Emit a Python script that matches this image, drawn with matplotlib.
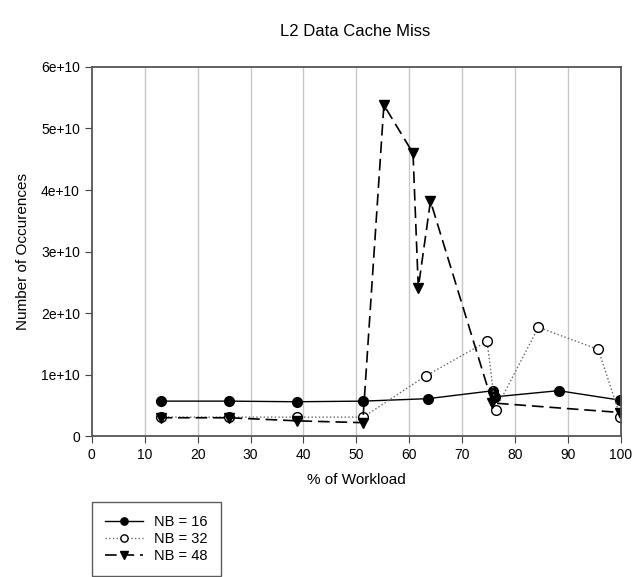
import matplotlib
matplotlib.use('Agg')
import matplotlib.pyplot as plt

plt.rcParams['font.family'] = ['Liberation Sans', 'DejaVu Sans']

# NB = 16
x16 = [13.0, 25.9, 38.7, 51.3, 63.5, 75.9, 76.2, 88.2, 99.9]
y16 = [5.7e9, 5.7e9, 5.6e9, 5.7e9, 6.1e9, 7.4e9, 6.4e9, 7.4e9, 5.85e9]

# NB = 32
x32 = [13.0, 25.9, 38.7, 51.3, 63.1, 74.7, 76.3, 84.4, 95.7, 99.9]
y32 = [3.1e9, 3.1e9, 3.1e9, 3.1e9, 9.8e9, 15.4e9, 4.3e9, 17.7e9, 14.1e9, 3.15e9]

# NB = 48
x48 = [13.0, 25.9, 38.7, 51.2, 55.2, 60.7, 61.7, 64.0, 75.7, 99.9]
y48 = [3.0e9, 3.0e9, 2.5e9, 2.2e9, 5.38e10, 4.6e10, 2.41e10, 3.82e10, 5.4e9, 3.85e9]

xticks = list(range(0, 101, 10))
yticks = [0, 1e10, 2e10, 3e10, 4e10, 5e10, 6e10]
ylabels = ['0', '1e+10', '2e+10', '3e+10', '4e+10', '5e+10', '6e+10']

fig = plt.figure(figsize=(6.33, 5.77), dpi=100)
ax = fig.add_axes([0.145, 0.244, 0.836, 0.640])

for xv in xticks[1:-1]:
    ax.axvline(xv, color='#c8c8c8', lw=1.0, zorder=0)

l1, = ax.plot(x16, y16, '-', color='black', lw=1.0, marker='o', ms=7,
              mfc='black', mec='black', label='NB = 16')
l2, = ax.plot(x32, y32, ':', color='#666666', lw=1.0, marker='o', ms=7,
              mfc='white', mec='black', label='NB = 32')
l3, = ax.plot(x48, y48, '--', color='black', lw=1.2, dashes=(7, 3.5), marker='v', ms=7,
              mfc='black', mec='black', label='NB = 48')

ax.set_xlim(0, 100)
ax.set_ylim(0, 6e10)
ax.set_xticks(xticks)
ax.set_yticks(yticks)
ax.set_yticklabels(ylabels)
ax.tick_params(direction='out', length=5, color='#444444', labelsize=10)
for s in ax.spines.values():
    s.set_color('#555555')
    s.set_linewidth(1.3)

ax.set_xlabel('% of Workload', fontsize=11, labelpad=8)
ax.set_ylabel('Number of Occurences', fontsize=11, labelpad=8)
fig.text(0.561, 0.945, 'L2 Data Cache Miss', ha='center', va='center', fontsize=12)

leg = fig.legend(handles=[l1, l2, l3], loc='lower left',
                 bbox_to_anchor=(0.145, 0.002), borderaxespad=0, fontsize=10.5,
                 frameon=True, fancybox=False, edgecolor='#333333',
                 handlelength=2.6, markerscale=0.75, borderpad=0.9,
                 labelspacing=0.2, handletextpad=0.8)
leg.get_frame().set_linewidth(1.0)

fig.savefig('out.png', dpi=100)
